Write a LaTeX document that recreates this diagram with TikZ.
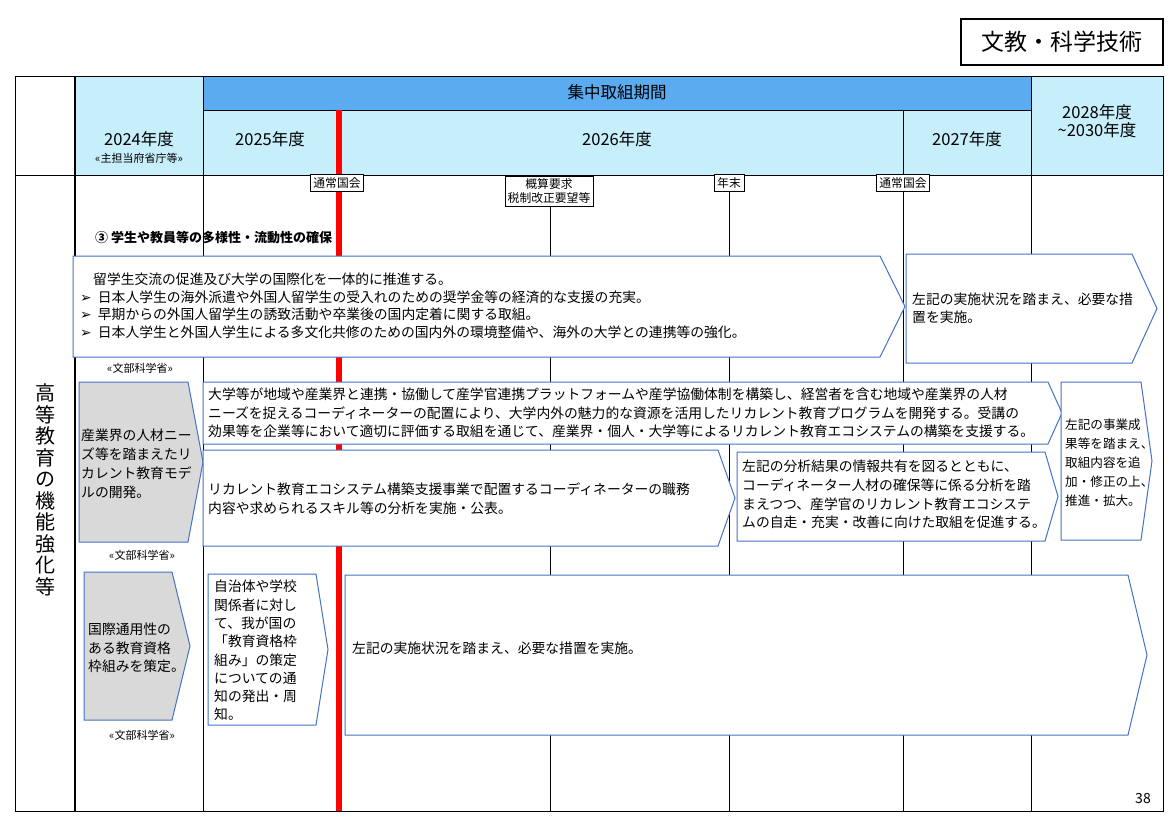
\documentclass[tikz,border=0pt]{standalone}
\usepackage{fontspec}
\setmainfont{Noto Sans CJK JP}
\newfontfamily\djv{DejaVu Sans}
\begin{document}
\begin{tikzpicture}[x=1pt,y=-1pt,
  bl/.style={draw=blueB,line width=1pt,fill=white},
  gr/.style={draw=blueB,line width=1pt,fill=greyF},
  tx/.style={anchor=north west,inner sep=0pt,align=left,font=\fontsize{13.8}{17.5}\selectfont},
  sm/.style={font=\fontsize{11}{13}\selectfont,inner sep=0pt},
  ms/.style={draw=black,fill=white,font=\fontsize{11.8}{13.5}\selectfont,inner sep=3pt,align=center},
  yr/.style={font=\fontsize{16.5}{19}\selectfont,align=center,inner sep=0pt}]
\definecolor{blueB}{HTML}{4472C4}
\definecolor{hdr}{HTML}{5AABF0}
\definecolor{lhdr}{HTML}{C6EEFB}
\definecolor{greyF}{HTML}{D9D9D9}
\newcommand\pent[6]{\path[#6] (#1,#2)--(#5,#2)--(#3,{(#2+#4)/2})--(#5,#4)--(#1,#4)--cycle;}
\newcommand\arw{{\djv ➢}\ \ }
\useasboundingbox (0,0) rectangle (1170,827);
% top right label
\node[draw=black,line width=1.2pt,minimum width=202pt,minimum height=46pt,font=\fontsize{23}{26}\selectfont] (cat) at (1062,42) {文教・科学技術};
% header fills
\fill[lhdr] (75,76) rectangle (203,175);
\fill[hdr] (203,76) rectangle (1031,110);
\fill[lhdr] (203,110) rectangle (1031,175);
\fill[lhdr] (1031,76) rectangle (1163,175);
% grid
\draw[line width=0.8pt] (15,76) rectangle (1163,811);
\draw[line width=1.2pt] (75,76)--(75,811);
\draw[line width=0.8pt] (203,76)--(203,811) (1031,76)--(1031,811) (15,175)--(1163,175) (203,110)--(1031,110);
\draw[line width=0.6pt] (903,110)--(903,811) (550,175)--(550,811) (729,175)--(729,811);
\draw[red,line width=6pt] (339,110)--(339,811);
% header text
\node[yr] (h0) at (617,92) {集中取組期間};
\node[yr] (h1) at (139,139) {2024年度};
\node[sm] (h1b) at (139,158) {«主担当府省庁等»};
\node[yr] (h2) at (270,139) {2025年度};
\node[yr] (h3) at (617,139) {2026年度};
\node[yr] (h4) at (967,139) {2027年度};
\node[yr] (h5) at (1097,121) {2028年度\\[-1pt]\textasciitilde2030年度};
% left label
\node[font=\fontsize{20}{21.5}\selectfont,align=center,inner sep=0pt] (lab) at (45,490) {高\\等\\教\\育\\の\\機\\能\\強\\化\\等};
% milestones
\node[ms] (m1) at (337,183) {通常国会};
\node[ms] (m2) at (549,191) {概算要求\\税制改正要望等};
\node[ms] (m3) at (729,183) {年末};
\node[ms] (m4) at (903,183) {通常国会};
% section title
\node[anchor=west,inner sep=0pt,font=\bfseries\fontsize{13}{15}\selectfont] (sec) at (95,238) {③ 学生や教員等の多様性・流動性の確保};
% row 1
\pent{73}{256}{905}{357}{880}{bl}
\node[tx] (t1) at (80,273) {\hspace{13pt}留学生交流の促進及び大学の国際化を一体的に推進する。\\
\arw 日本人学生の海外派遣や外国人留学生の受入れのための奨学金等の経済的な支援の充実。\\
\arw 早期からの外国人留学生の誘致活動や卒業後の国内定着に関する取組。\\
\arw 日本人学生と外国人学生による多文化共修のための国内外の環境整備や、海外の大学との連携等の強化。};
\pent{906}{254}{1157}{363}{1132}{bl}
\node[tx,font=\fontsize{13.8}{18}\selectfont] (t1b) at (912,293) {左記の実施状況を踏まえ、必要な措\\置を実施。};
\node[sm] (s1) at (140,368) {«文部科学省»};
% row 2
\pent{79}{382}{203}{542}{188}{gr}
\node[tx,font=\fontsize{13.8}{19}\selectfont] (g1) at (81,429) {産業界の人材ニー\\ズ等を踏まえたリ\\カレント教育モデ\\ルの開発。};
\pent{203}{382}{1062}{444}{1048}{bl}
\node[tx,font=\fontsize{13.8}{18.5}\selectfont] (t2) at (208,388) {大学等が地域や産業界と連携・協働して産学官連携プラットフォームや産学協働体制を構築し、経営者を含む地域や産業界の人材\\ニーズを捉えるコーディネーターの配置により、大学内外の魅力的な資源を活用したリカレント教育プログラムを開発する。受講の\\効果等を企業等において適切に評価する取組を通じて、産業界・個人・大学等によるリカレント教育エコシステムの構築を支援する。};
\pent{1061}{382}{1152}{540}{1141}{bl}
\node[tx,font=\fontsize{12.6}{19}\selectfont] (t2r) at (1065,419) {左記の事業成\\果等を踏まえ、\\取組内容を追\\加・修正の上、\\推進・拡大。};
\pent{203}{450}{735}{546}{718}{bl}
\node[tx,font=\fontsize{13.8}{18.5}\selectfont] (t3) at (208,483) {リカレント教育エコシステム構築支援事業で配置するコーディネーターの職務\\内容や求められるスキル等の分析を実施・公表。};
\pent{737}{452}{1058}{541}{1045}{bl}
\node[tx,font=\fontsize{13.8}{18.7}\selectfont] (t4) at (742,460) {左記の分析結果の情報共有を図るとともに、\\コーディネーター人材の確保等に係る分析を踏\\まえつつ、産学官のリカレント教育エコシステ\\ムの自走・充実・改善に向けた取組を促進する。};
\node[sm] (s2) at (142,555) {«文部科学省»};
% row 3
\pent{84}{572}{190}{720}{172}{gr}
\node[tx,font=\fontsize{13.8}{18.5}\selectfont] (g2) at (88,623) {国際通用性の\\ある教育資格\\枠組みを策定。};
\pent{208}{574}{328}{725}{316}{bl}
\node[tx,font=\fontsize{13.8}{18.3}\selectfont] (t5) at (214,580) {自治体や学校\\関係者に対し\\て、我が国の\\「教育資格枠\\組み」の策定\\についての通\\知の発出・周\\知。};
\pent{345}{575}{1147}{735}{1128}{bl}
\node[tx] (t6) at (352,642) {左記の実施状況を踏まえ、必要な措置を実施。};
\node[sm] (s3) at (142,735) {«文部科学省»};
\node[font=\fontsize{14}{16}\selectfont,inner sep=0pt] (pg) at (1143,798) {38};
\end{tikzpicture}
\end{document}
